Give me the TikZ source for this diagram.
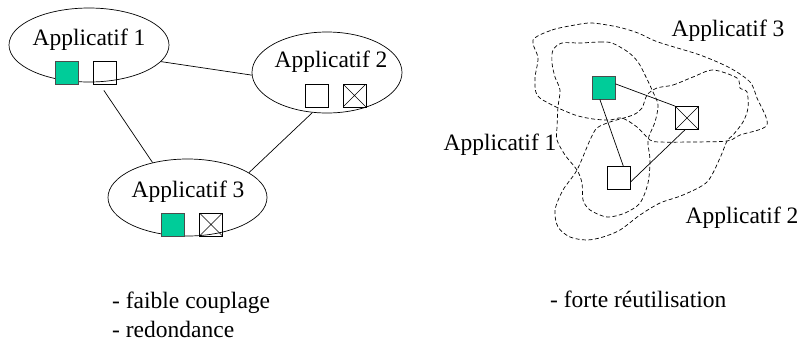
\documentclass[tikz,border=0pt]{standalone}
\usepackage{fontspec}
\setmainfont{LiberationSerif}[Extension=.ttf,UprightFont=*-Regular,BoldFont=*-Bold]
\usetikzlibrary{shapes.geometric}
\definecolor{vert}{HTML}{00CC99}

\begin{document}
\begin{tikzpicture}[x=1pt,y=-1pt]
      \tikzset{appli/.style = {shape=ellipse,draw,inner sep=0pt,line width=0.7pt}}
      \tikzset{box/.style = {shape=rectangle,draw,minimum size=23pt,inner sep=0pt,line width=0.8pt}}
      \tikzset{plein/.style = {box,fill=vert,draw=black!70}}
      \tikzset{croix/.style = {box,path picture={
        \draw[line width=0.6pt] (path picture bounding box.north west) -- (path picture bounding box.south east)
          (path picture bounding box.north east) -- (path picture bounding box.south west);}}}
      \tikzset{edge/.style = {-,line width=0.7pt}}
      \tikzset{zone/.style = {dash pattern=on 4pt off 2.5pt,line width=0.7pt}}
      \tikzset{txt/.style = {font=\rmfamily\fontsize{23.5}{28}\selectfont,inner sep=0pt,anchor=base}}
      \useasboundingbox (0,0) rectangle (800,341);

      % couplage faible : trois applicatifs separes
      \node[appli,minimum width=160pt,minimum height=74pt] (a1) at (89,45) {};
      \node[appli,minimum width=150pt,minimum height=81pt] (a2) at (327,72.5) {};
      \node[appli,minimum width=159pt,minimum height=77pt] (a3) at (187.5,197.5) {};

      \node[txt] (t1) at (89,45) {Applicatif 1};
      \node[txt] (t2) at (331,67) {Applicatif 2};
      \node[txt] (t3) at (188,197) {Applicatif 3};

      \node[plein] (g1) at (67,72.5) {};
      \node[box] (b1) at (105,72.5) {};
      \node[box] (b2) at (316.5,95.5) {};
      \node[croix] (x2) at (354.5,95.5) {};
      \node[plein] (g3) at (173,224.5) {};
      \node[croix] (x3) at (211,224.5) {};

      \draw[edge] (a1.-13) to (a2.182);
      \draw[edge,shorten <=10pt] (a1.-76) to (a3.135);
      \draw[edge] (a2.-110) to (a3.22);

      % reutilisation : zones qui se recouvrent
      \draw[zone] plot[smooth cycle,tension=0.5] coordinates {(533,40) (552,30) (575,25) (592,23) (618,27)
        (638,33) (658,42) (700,55) (730,68) (750,82) (757,98) (767,125) (740,135) (727,141) (690,142)
        (660,142) (650,140) (637,127) (622,118) (610,120) (593,119) (575,115) (552,105) (537,95)
        (535,78) (538,58)};
      \draw[zone] plot[smooth cycle,tension=0.5] coordinates {(657,88) (673,85) (693,77) (713,70) (737,78)
        (740,88) (747,92) (748,108) (743,122) (733,135) (727,141) (720,158) (707,182) (683,195)
        (660,203) (640,215) (620,230) (603,237) (587,240) (570,237) (558,227) (555,210) (563,190)
        (577,170) (590,140) (597,128) (610,122) (633,115) (642,108) (647,95)};
      \draw[zone] plot[smooth cycle,tension=0.5] coordinates {(580,43) (600,42) (612,43) (628,52) (638,62)
        (645,75) (653,92) (658,105) (655,122) (648,140) (650,160) (648,183) (640,203) (625,213)
        (607,217) (590,210) (583,200) (582,183) (577,170) (565,155) (557,140) (557,127) (558,107)
        (560,90) (555,77) (552,63) (553,50) (562,43)};

      \node[txt] (z3) at (728,36) {Applicatif 3};
      \node[txt] (z1) at (500,150) {Applicatif 1};
      \node[txt] (z2) at (742,223) {Applicatif 2};

      \node[plein] (g) at (603.5,87.5) {};
      \node[croix] (x) at (687,118) {};
      \node[box] (b) at (618.5,178) {};

      \draw[edge] (g.17) to (x.north west);
      \draw[edge] (g.-107) to (b.68);
      \draw[edge] (x.-100) to (b.-19);

      % commentaires
      \node[txt,anchor=base west] (c1) at (112,308) {- faible couplage};
      \node[txt,anchor=base west] (c2) at (112,337) {- redondance};
      \node[txt,anchor=base west] (c3) at (550,307) {- forte réutilisation};
\end{tikzpicture}
\end{document}
